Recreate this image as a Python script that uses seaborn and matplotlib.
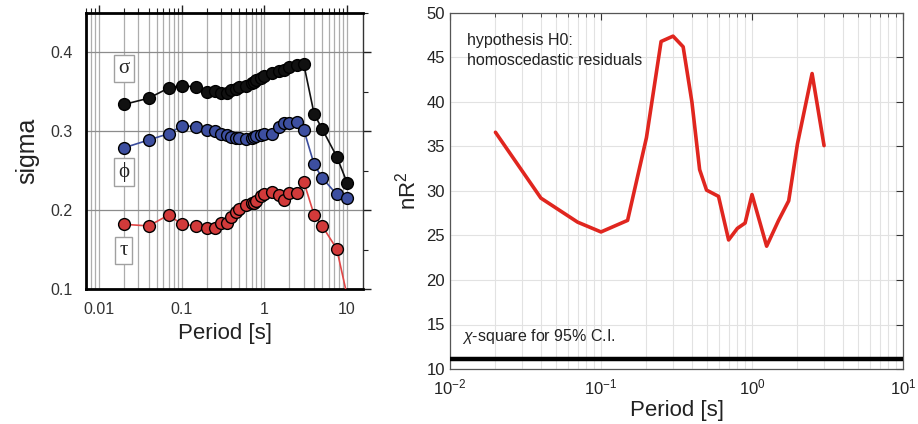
import numpy as np
import pandas as pd
import matplotlib
matplotlib.use("Agg")
import matplotlib.pyplot as plt
import matplotlib.ticker as mticker
import seaborn as sns

# ---------------- data ----------------
periods_left = [0.02, 0.04, 0.07, 0.1, 0.15, 0.2, 0.25, 0.3, 0.35, 0.4, 0.45, 0.5,
                0.6, 0.7, 0.75, 0.8, 0.9, 1.0, 1.25, 1.5, 1.75, 2.0, 2.5, 3.0,
                4.0, 5.0, 7.5, 10.0]
sigma = [0.334, 0.342, 0.355, 0.358, 0.356, 0.350, 0.351, 0.349, 0.348, 0.352, 0.354, 0.356,
         0.358, 0.361, 0.363, 0.365, 0.368, 0.370, 0.374, 0.376, 0.378, 0.382, 0.384, 0.385,
         0.322, 0.303, 0.268, 0.235]
phi = [0.279, 0.289, 0.297, 0.307, 0.306, 0.301, 0.300, 0.297, 0.295, 0.293, 0.292, 0.291,
       0.290, 0.291, 0.293, 0.294, 0.295, 0.296, 0.297, 0.305, 0.310, 0.311, 0.312, 0.302,
       0.258, 0.241, 0.220, 0.215]
tau = [0.182, 0.180, 0.194, 0.182, 0.180, 0.177, 0.177, 0.184, 0.184, 0.191, 0.198, 0.201,
       0.207, 0.209, 0.209, 0.211, 0.218, 0.221, 0.223, 0.219, 0.213, 0.222, 0.222, 0.236,
       0.194, 0.180, 0.151, 0.092]

periods_right = [0.02, 0.04, 0.07, 0.1, 0.15, 0.2, 0.25, 0.3, 0.35, 0.4, 0.45, 0.5,
                 0.6, 0.7, 0.8, 0.9, 1.0, 1.25, 1.5, 1.75, 2.0, 2.5, 3.0]
nR2 = [36.6, 29.2, 26.5, 25.4, 26.7, 36.0, 46.8, 47.4, 46.2, 40.0, 32.4, 30.1,
       29.4, 24.5, 25.8, 26.4, 29.6, 23.8, 26.7, 28.9, 35.3, 43.2, 35.1]
chi2_95 = 11.07

left_xticks = [0.01, 0.1, 1, 10]
left_xticklabels = ["0.01", "0.1", "1", "10"]
left_yticks = [0.1, 0.2, 0.3, 0.4]
right_yticks = [10, 15, 20, 25, 30, 35, 40, 45, 50]

# ---------------- style ----------------
sns.set_style("white")
plt.rcParams["font.family"] = ["Liberation Sans", "DejaVu Sans"]
plt.rcParams["mathtext.fontset"] = "custom"
plt.rcParams["mathtext.rm"] = "Liberation Sans"
plt.rcParams["mathtext.it"] = "Liberation Sans:italic"
plt.rcParams["mathtext.bf"] = "Liberation Sans:bold"

fig = plt.figure(figsize=(9.18, 4.24), dpi=100)
axL = fig.add_axes([86 / 918, 1 - 289 / 424, (363 - 86) / 918, (289 - 13) / 424])
axR = fig.add_axes([450 / 918, 1 - 369 / 424, (903 - 450) / 918, (369 - 13) / 424])

# ---------------- left panel ----------------
df_left = pd.DataFrame({"period": periods_left * 3,
                        "value": sigma + phi + tau,
                        "comp": ["sigma"] * len(sigma) + ["phi"] * len(phi) + ["tau"] * len(tau)})
line_cols = {"sigma": "#111111", "phi": "#3a4c9c", "tau": "#e04646"}
face_cols = {"sigma": "#111111", "phi": "#3d4fa0", "tau": "#d23a3a"}
for comp in ["sigma", "phi", "tau"]:
    sub = df_left[df_left["comp"] == comp]
    sns.lineplot(data=sub, x="period", y="value", ax=axL, color=line_cols[comp],
                 linewidth=1.2, marker="o", markersize=8.5,
                 markerfacecolor=face_cols[comp], markeredgecolor="black",
                 markeredgewidth=1.0, zorder=3, clip_on=True)

axL.set_xscale("log")
axL.set_xlim(0.00697, 15.6)
axL.set_ylim(0.1, 0.45)
axL.set_xticks(left_xticks)
axL.set_xticklabels(left_xticklabels)
axL.xaxis.set_minor_locator(mticker.LogLocator(base=10, subs=np.arange(2, 10), numticks=20))
axL.xaxis.set_minor_formatter(mticker.NullFormatter())
axL.set_yticks(left_yticks)
axL.set_yticklabels(["0.1", "0.2", "0.3", "0.4"])
axL.yaxis.set_minor_locator(mticker.MultipleLocator(0.05))
axL.grid(True, which="both", axis="x", color="#adadad", linewidth=0.9)
axL.grid(True, which="major", axis="y", color="#8c8c8c", linewidth=0.9)
axL.set_axisbelow(True)
axL.tick_params(which="both", direction="out", top=True, right=True,
                labeltop=False, labelright=False, colors="#222222",
                labelcolor="#333333", labelsize=11.5)
axL.tick_params(which="major", length=6, width=1)
axL.tick_params(which="minor", length=3.5, width=0.8)
for s in ["left", "bottom", "top"]:
    axL.spines[s].set_linewidth(2.0)
    axL.spines[s].set_color("black")
axL.spines["right"].set_linewidth(1.0)
axL.spines["right"].set_color("#333333")
axL.set_xlabel("Period [s]", fontsize=16, color="#222222", labelpad=4)
axL.set_ylabel("sigma", fontsize=18, color="#222222", labelpad=8)

box = dict(boxstyle="square,pad=0.2", facecolor="white", edgecolor="#a0a0a0", linewidth=1.0)
for sym, yv in [("σ", 0.380), ("ϕ", 0.248), ("τ", 0.149)]:
    axL.text(0.02, yv, sym, ha="center", va="center", fontsize=15,
             family=["Liberation Serif", "DejaVu Serif"], bbox=box, zorder=5)

# ---------------- right panel ----------------
df_right = pd.DataFrame({"period": periods_right, "nR2": nR2})
sns.lineplot(data=df_right, x="period", y="nR2", ax=axR, color="#e0261f",
             linewidth=2.6, zorder=3)
axR.axhline(chi2_95, color="black", linewidth=3.2, zorder=3)

axR.set_xscale("log")
axR.set_xlim(0.01, 10)
axR.set_ylim(10, 50)
axR.set_yticks(right_yticks)
axR.xaxis.set_major_locator(mticker.LogLocator(base=10, numticks=10))
axR.xaxis.set_minor_locator(mticker.LogLocator(base=10, subs=np.arange(2, 10), numticks=20))
axR.xaxis.set_minor_formatter(mticker.NullFormatter())
axR.grid(True, which="both", axis="x", color="#e2e2e2", linewidth=0.8)
axR.grid(True, which="major", axis="y", color="#e2e2e2", linewidth=0.8)
axR.set_axisbelow(True)
axR.tick_params(which="both", direction="in", top=True, right=True,
                labelsize=12, colors="#333333", labelcolor="#222222")
axR.tick_params(which="major", length=5, width=0.8)
axR.tick_params(which="minor", length=3, width=0.6)
axR.tick_params(axis="x", pad=6)
for s in axR.spines.values():
    s.set_linewidth(0.9)
    s.set_color("#555555")
axR.set_xlabel("Period [s]", fontsize=16, color="#222222", labelpad=2)
axR.set_ylabel("nR$^2$", fontsize=16, color="#222222", labelpad=4)

axR.text(0.037, 0.945, "hypothesis H0:\nhomoscedastic residuals", transform=axR.transAxes,
         ha="left", va="top", fontsize=11.5, color="#222222", linespacing=1.45)
axR.text(0.027, 13.1, r"$\chi$-square for 95% C.I.", transform=axR.get_yaxis_transform(),
         ha="left", va="baseline", fontsize=11.5, color="#222222")

fig.savefig("out.png", dpi=100)
